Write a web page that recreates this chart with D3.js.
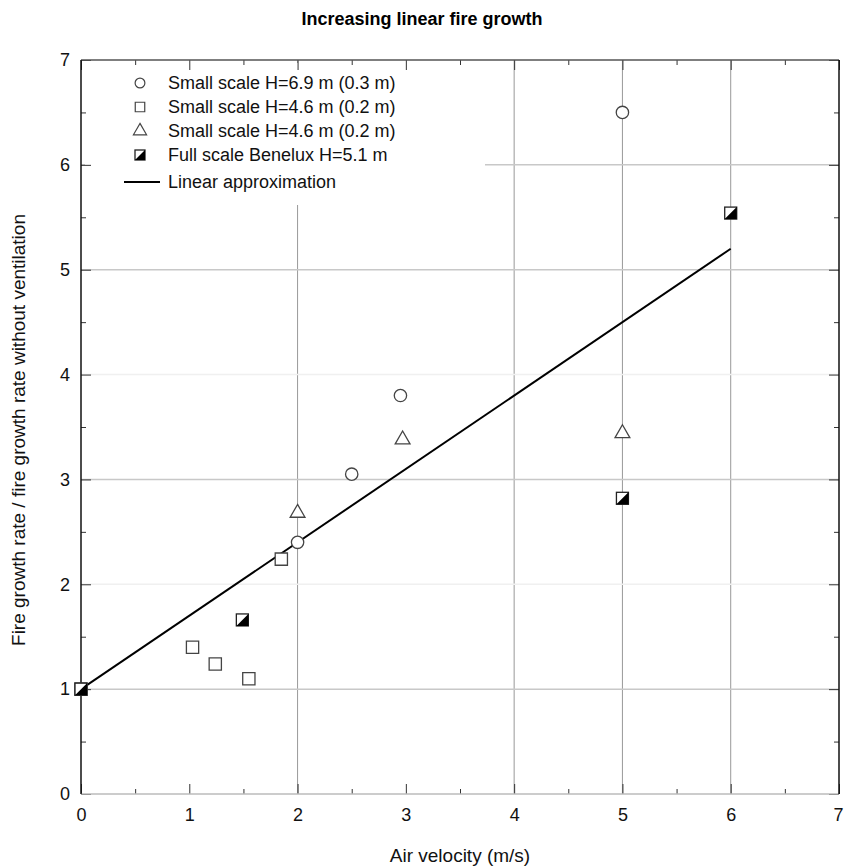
<!DOCTYPE html>
<html>
<head>
<meta charset="utf-8">
<script src="https://cdn.jsdelivr.net/npm/d3@7"></script>
<style>
  body { margin: 0; background: #fff; }
  text { font-family: "Liberation Sans", Arial, sans-serif; }
</style>
</head>
<body>
<script>
// values
var circlePts = [[2.0, 2.4], [2.5, 3.05], [2.95, 3.8], [5.0, 6.5]];
var squarePts = [[0, 1.0], [1.03, 1.4], [1.24, 1.24], [1.55, 1.1], [1.85, 2.24]];
var trianglePts = [[2.0, 2.68], [2.97, 3.38], [5.0, 3.44]];
var beneluxPts = [[0, 1.0], [1.49, 1.66], [5.0, 2.82], [6.0, 5.54]];
var linePts = [[0, 1.0], [6.0, 5.2]];
var legendLabels = [
  "Small scale H=6.9 m (0.3 m)",
  "Small scale H=4.6 m (0.2 m)",
  "Small scale H=4.6 m (0.2 m)",
  "Full scale Benelux H=5.1 m",
  "Linear approximation"
];
var axisTicks = d3.range(0, 7.01, 0.5);
var gridXStrong = [2, 4, 5, 6];
var gridYStrong = [1, 3, 5, 6];
var gridYFaint = [2, 4];

var margin = {top: 60, left: 81, right: 5, bottom: 74};
var W = 844, H = 868;
var w = W - margin.left - margin.right;
var h = H - margin.top - margin.bottom;

var svg = d3.select("body").append("svg")
  .attr("width", W)
  .attr("height", H);

var x = d3.scaleLinear().domain([0, 7]).range([0, w]);
var y = d3.scaleLinear().domain([0, 7]).range([h, 0]);

var g = svg.append("g")
  .attr("transform", "translate(" + margin.left + "," + margin.top + ")");

// grid
g.selectAll(".gx").data(gridXStrong).enter().append("line")
  .attr("x1", d => x(d)).attr("x2", d => x(d))
  .attr("y1", 0).attr("y2", h)
  .style("stroke", "#999").style("stroke-width", 1);
g.selectAll(".gy").data(gridYStrong).enter().append("line")
  .attr("x1", 0).attr("x2", w)
  .attr("y1", d => y(d)).attr("y2", d => y(d))
  .style("stroke", "#c8c8c8").style("stroke-width", 1.5);
g.selectAll(".gyf").data(gridYFaint).enter().append("line")
  .attr("x1", 0).attr("x2", w)
  .attr("y1", d => y(d)).attr("y2", d => y(d))
  .style("stroke", "#f0f0f0").style("stroke-width", 1.5);

// legend box hides the grid behind it
g.append("rect")
  .attr("x", 4).attr("y", 3)
  .attr("width", 400).attr("height", 142)
  .style("fill", "#fff");

// axes, ticks inward on all four sides
function styleAxis(sel, horiz, sign, labels) {
  sel.select(".domain").remove();
  sel.selectAll(".tick line")
    .attr(horiz ? "y2" : "x2", d => sign * (d % 1 === 0 ? 10 : 5))
    .style("stroke", "#333");
  sel.selectAll(".tick text")
    .style("font-size", "18px")
    .style("fill", "#111")
    .text(d => (labels && d % 1 === 0) ? d : "");
}

var axB = g.append("g").attr("transform", "translate(0," + h + ")")
  .call(d3.axisBottom(x).tickValues(axisTicks).tickSize(0).tickPadding(14));
styleAxis(axB, true, -1, true);
axB.selectAll(".tick text").filter(d => d === 7)
  .attr("text-anchor", "end").attr("x", 4);

var axT = g.append("g")
  .call(d3.axisTop(x).tickValues(axisTicks).tickSize(0));
styleAxis(axT, true, 1, false);

var axL = g.append("g")
  .call(d3.axisLeft(y).tickValues(axisTicks).tickSize(0).tickPadding(11));
styleAxis(axL, false, 1, true);

var axR = g.append("g").attr("transform", "translate(" + w + ",0)")
  .call(d3.axisRight(y).tickValues(axisTicks).tickSize(0));
styleAxis(axR, false, -1, false);

// frame
g.append("line").attr("x1", 0).attr("x2", w).attr("y1", 0).attr("y2", 0)
  .style("stroke", "#555").style("stroke-width", 1.5);
g.append("line").attr("x1", 0).attr("x2", w).attr("y1", h).attr("y2", h)
  .style("stroke", "#bbb").style("stroke-width", 1.5);
g.append("line").attr("x1", 0).attr("x2", 0).attr("y1", 0).attr("y2", h)
  .style("stroke", "#111").style("stroke-width", 1.5);
g.append("line").attr("x1", w).attr("x2", w).attr("y1", 0).attr("y2", h)
  .style("stroke", "#111").style("stroke-width", 1.5);

// linear approximation
g.append("path")
  .datum(linePts)
  .attr("d", d3.line().x(d => x(d[0])).y(d => y(d[1])))
  .style("fill", "none").style("stroke", "#000").style("stroke-width", 2);

// markers
var mk = "#444";
function drawSymbol(parent, pts, type, size) {
  parent.selectAll(null).data(pts).enter().append("path")
    .attr("transform", d => "translate(" + x(d[0]) + "," + y(d[1]) + ")")
    .attr("d", d3.symbol().type(type).size(size))
    .style("fill", "#fff").style("stroke", mk).style("stroke-width", 1.3);
}
function halfSquare(sel, s) {
  sel.append("rect").attr("x", -s / 2).attr("y", -s / 2)
    .attr("width", s).attr("height", s)
    .style("fill", "#fff").style("stroke", "#222").style("stroke-width", 1.3);
  sel.append("path")
    .attr("d", "M" + (-s / 2) + "," + (s / 2) + "L" + (s / 2) + "," + (-s / 2) + "L" + (s / 2) + "," + (s / 2) + "Z")
    .style("fill", "#000");
}

drawSymbol(g, squarePts, d3.symbolSquare, 150);
drawSymbol(g, circlePts, d3.symbolCircle, 120);
drawSymbol(g, trianglePts, d3.symbolTriangle, 95);
g.selectAll(null).data(beneluxPts).enter().append("g")
  .attr("transform", d => "translate(" + x(d[0]) + "," + y(d[1]) + ")")
  .each(function() { halfSquare(d3.select(this), 12); });

// legend
var lg = g.append("g").attr("transform", "translate(59,23)");
var types = [d3.symbolCircle, d3.symbolSquare, d3.symbolTriangle];
var rowY = [0, 24, 48, 72, 99];
legendLabels.forEach(function(lab, i) {
  var row = lg.append("g").attr("transform", "translate(0," + rowY[i] + ")");
  if (i < 3) {
    row.append("path")
      .attr("d", d3.symbol().type(types[i]).size(i === 1 ? 90 : 75))
      .style("fill", "#fff").style("stroke", mk).style("stroke-width", 1.2);
  } else if (i === 3) {
    halfSquare(row, 10);
  } else {
    row.append("line").attr("x1", -16).attr("x2", 20)
      .style("stroke", "#000").style("stroke-width", 2);
  }
  row.append("text").attr("x", 28).attr("dy", "0.35em")
    .style("font-size", "18px").style("fill", "#111")
    .text(lab);
});

// title and axis labels
svg.append("text")
  .attr("x", 422).attr("y", 25)
  .attr("text-anchor", "middle")
  .style("font-size", "18px").style("font-weight", "bold")
  .style("font-family", "'Liberation Sans Narrow', 'Arial Narrow', 'Liberation Sans', sans-serif")
  .text("Increasing linear fire growth");

svg.append("text")
  .attr("x", margin.left + w / 2).attr("y", 862)
  .attr("text-anchor", "middle")
  .style("font-size", "19px").style("fill", "#111")
  .text("Air velocity (m/s)");

svg.append("text")
  .attr("transform", "translate(25," + (margin.top + h / 2 + 3) + ") rotate(-90)")
  .attr("text-anchor", "middle")
  .style("font-size", "19px").style("fill", "#111")
  .text("Fire growth rate / fire growth rate without ventilation");
</script>
</body>
</html>
